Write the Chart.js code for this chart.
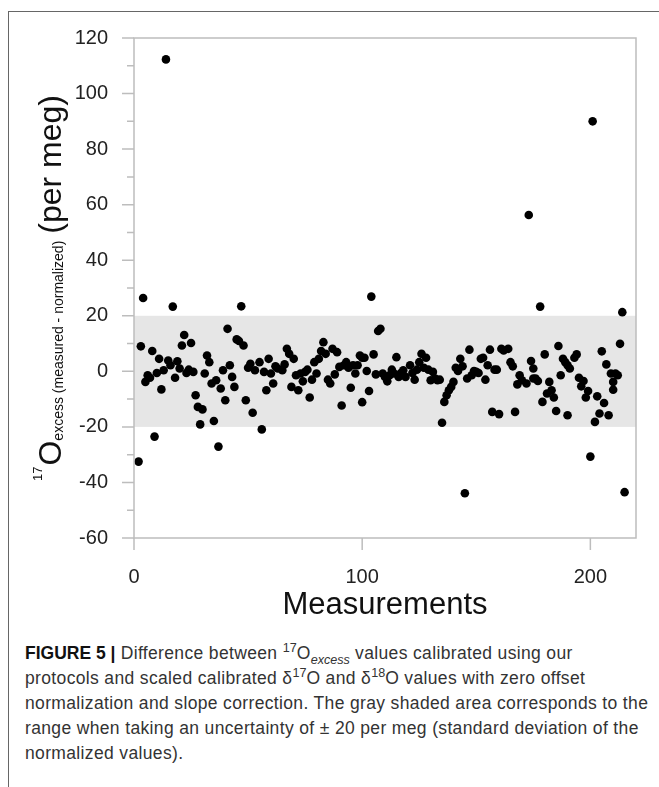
<!DOCTYPE html>
<html>
<head>
<meta charset="utf-8">
<script src="https://cdn.jsdelivr.net/npm/chart.js@4"></script>
<style>
  body { margin: 0; background: #fff; width: 659px; height: 787px; overflow: hidden; position: relative; }
  #frame { position: absolute; left: 8px; top: 11px; right: -2px; bottom: -2px; border-top: 1.5px solid #666; border-left: 1.5px solid #666; }
  #wrap { position: absolute; left: 0; top: 0; width: 659px; height: 624px; }
  #caption { position: absolute; left: 25px; top: 641px; font-family: "Liberation Sans", Arial, sans-serif; font-size: 17.5px; letter-spacing: 0.35px; line-height: 25px; color: #333; white-space: nowrap; }
  #caption b { color: #111; letter-spacing: 0; }
  #caption sup, #caption sub { font-size: 0.72em; line-height: 0; letter-spacing: 0; }
</style>
</head>
<body>
<div id="frame"></div>
<div id="wrap"><canvas id="excessChart" width="659" height="624"></canvas></div>
<div id="caption"><b>FIGURE 5 |</b> Difference between <sup>17</sup>O<sub><i>excess</i></sub> values calibrated using our<br>protocols and scaled calibrated δ<sup>17</sup>O and δ<sup>18</sup>O values with zero offset<br>normalization and slope correction. The gray shaded area corresponds to the<br>range when taking an uncertainty of ± 20 per meg (standard deviation of the<br>normalized values).</div>
<script>
const measurement = [
  2, 3, 4, 5, 6, 7, 8, 9, 10, 11,
  12, 13, 14, 15, 16, 17, 18, 19, 20, 21,
  22, 23, 24, 25, 26, 27, 28, 29, 30, 31,
  32, 33, 34, 35, 36, 37, 38, 39, 40, 41,
  42, 43, 44, 45, 46, 47, 48, 49, 50, 51,
  52, 53, 55, 56, 57, 58, 59, 60, 61, 62,
  63, 65, 66, 67, 68, 69, 70, 71, 72, 73,
  74, 75, 76, 77, 78, 79, 80, 81, 82, 83,
  84, 85, 86, 87, 88, 89, 90, 91, 92, 93,
  94, 95, 96, 97, 98, 99, 100, 100, 101, 102,
  103, 104, 105, 106, 107, 108, 109, 110, 111, 112,
  113, 114, 115, 116, 117, 118, 119, 121, 122, 123,
  124, 125, 126, 127, 128, 129, 130, 131, 132, 133,
  134, 135, 136, 137, 138, 139, 140, 141, 142, 143,
  144, 145, 146, 147, 148, 149, 150, 151, 152, 153,
  154, 155, 156, 157, 158, 159, 160, 161, 162, 164,
  165, 166, 167, 168, 169, 170, 172, 173, 174, 175,
  175, 176, 177, 178, 179, 180, 181, 182, 183, 184,
  185, 186, 187, 188, 189, 190, 190, 191, 193, 194,
  195, 196, 197, 198, 199, 200, 201, 202, 203, 204,
  205, 206, 207, 208, 209, 210, 210, 211, 212, 213,
  214, 215
];
const excessDiff = [
  -32.5, 9.0, 26.4, -3.8, -1.4, -2.3, 7.3, -23.5, -0.6, 4.5,
  -6.5, 0.4, 112.3, 3.9, 2.2, 23.3, -2.3, 3.6, 1.0, 9.3,
  13.1, -0.6, 0.6, 10.2, -0.2, -8.6, -12.8, -19.1, -13.7, -0.8,
  5.7, 3.3, -4.4, -17.9, -3.2, -27.1, -6.2, 0.4, -10.4, 15.3,
  2.2, -2.0, -5.6, 11.5, 10.9, 23.4, 9.3, -10.4, 1.3, 2.7,
  -14.9, 0.4, 3.3, -20.9, -0.2, -6.8, 4.5, -0.8, -4.4, 1.8,
  1.0, 0.4, 2.5, 8.1, 6.3, -5.6, 4.5, -1.4, -6.8, -0.8,
  -3.6, -0.2, 0.6, -9.4, -3.0, 3.3, -0.8, 4.5, 7.3, 10.5,
  6.3, -3.0, -4.4, 8.1, -1.1, 6.9, 1.6, -12.3, 2.2, 3.3,
  1.3, -5.9, 2.2, -0.8, 2.2, 5.7, 4.9, -11.1, 4.9, 0.1,
  -7.1, 26.9, 6.1, -1.1, 14.5, 15.3, -0.8, -2.0, -3.6, -1.4,
  0.6, -0.8, 5.1, -2.0, -0.6, 0.4, -2.0, 2.2, -0.6, -3.0,
  0.6, 3.3, 6.3, 1.3, 4.9, 0.6, -3.2, -0.2, -2.6, -3.2,
  -3.0, -18.5, -11.0, -8.6, -6.8, -5.6, -3.8, 1.3, 0.1, 4.5,
  1.8, -43.9, -2.6, 7.8, -1.4, 0.1, -0.2, -0.6, 4.5, 4.9,
  -3.0, 2.2, 7.8, -14.6, 0.6, 0.6, -15.4, 8.1, 7.5, 8.1,
  3.3, 1.8, -14.6, -4.7, -1.4, -3.2, -4.4, 56.3, 3.7, 1.0,
  -2.6, -2.6, -3.5, 23.3, -11.0, 6.1, -8.0, -3.8, -6.8, -9.4,
  -14.3, 9.1, -1.4, 4.5, 3.3, -15.8, 2.2, 1.0, 4.9, 6.1,
  -2.3, -5.4, -3.5, -9.4, -7.1, -30.7, 90.0, -18.2, -9.0, -15.2,
  7.2, -11.4, 2.5, -15.8, -0.8, -3.8, -6.6, -0.8, -1.4, 9.9,
  21.3, -43.5
];

const xTicks = [0, 100, 200];
const yTicks = [-60, -40, -20, 0, 20, 40, 60, 80, 100, 120];
const yMinorTicks = [-50, -30, -10, 10, 30, 50, 70, 90, 110];
const band = [-20, 20]; // +/- 20 per meg uncertainty

const axisGray = "#bdbdbd";
const fontFamily = "'Liberation Sans', Arial, Helvetica, sans-serif";

// gray band, plot frame and outside tick marks
const framePlugin = {
  id: "frame",
  beforeDatasetsDraw(chart) {
    const { ctx, chartArea: a, scales: { y } } = chart;
    const top = y.getPixelForValue(band[1]);
    const bottom = y.getPixelForValue(band[0]);
    ctx.save();
    ctx.fillStyle = "#e6e6e6";
    ctx.fillRect(a.left, top, a.right - a.left, bottom - top);
    ctx.restore();
  },
  afterDraw(chart) {
    const { ctx, chartArea: a, scales: { x, y } } = chart;
    ctx.save();
    ctx.strokeStyle = axisGray;
    ctx.lineWidth = 1.5;
    ctx.strokeRect(a.left, a.top, a.right - a.left, a.bottom - a.top);
    ctx.beginPath();
    yTicks.forEach(v => {
      const py = y.getPixelForValue(v);
      ctx.moveTo(a.left - 12, py); ctx.lineTo(a.left, py);
    });
    yMinorTicks.forEach(v => {
      const py = y.getPixelForValue(v);
      ctx.moveTo(a.left - 7, py); ctx.lineTo(a.left, py);
    });
    xTicks.forEach(v => {
      const px = x.getPixelForValue(v);
      ctx.moveTo(px, a.bottom); ctx.lineTo(px, a.bottom + 12);
    });
    ctx.stroke();
    ctx.restore();
  }
};

// rotated y title with superscript / subscript parts
const yTitlePlugin = {
  id: "yTitle",
  afterDraw(chart) {
    const { ctx, chartArea: a } = chart;
    const parts = [
      { text: "17", size: 13, dy: -19.5 },
      { text: "O", size: 32, dy: 0, gap: 1 },
      { text: "excess (measured - normalized)", size: 14, dy: 1.5 },
      { text: "(per meg)", size: 32, dy: 0, gap: 7 }
    ];
    ctx.save();
    let total = 0;
    parts.forEach(p => {
      ctx.font = p.size + "px " + fontFamily;
      p.w = ctx.measureText(p.text).width;
      total += p.w + (p.gap || 0);
    });
    ctx.translate(61, (a.top + a.bottom) / 2);
    ctx.rotate(-Math.PI / 2);
    ctx.fillStyle = "#111";
    ctx.textBaseline = "alphabetic";
    let cx = -total / 2;
    parts.forEach(p => {
      cx += p.gap || 0;
      ctx.font = p.size + "px " + fontFamily;
      ctx.fillText(p.text, cx, p.dy);
      cx += p.w;
    });
    ctx.restore();
  }
};

const ctx = document.getElementById("excessChart").getContext("2d");
new Chart(ctx, {
  type: "scatter",
  data: {
    datasets: [{
      label: "17O excess difference",
      data: measurement.map((m, i) => ({ x: m, y: excessDiff[i] })),
      backgroundColor: "#000",
      borderWidth: 0,
      pointRadius: 4.3
    }]
  },
  options: {
    responsive: false,
    animation: false,
    layout: { padding: { left: 0, right: 23, top: 37, bottom: 0 } },
    plugins: { legend: { display: false }, tooltip: { enabled: false } },
    scales: {
      x: {
        type: "linear",
        min: 0,
        max: 220,
        afterBuildTicks: s => { s.ticks = xTicks.map(v => ({ value: v })); },
        afterFit: s => { s.height = 86; },
        grid: { drawOnChartArea: false, drawTicks: false },
        border: { display: false },
        ticks: { padding: 27, color: "#222", font: { family: fontFamily, size: 20 } },
        title: { display: true, text: "Measurements", color: "#111", padding: 0, font: { family: fontFamily, size: 31 } }
      },
      y: {
        min: -60,
        max: 120,
        afterBuildTicks: s => { s.ticks = yTicks.map(v => ({ value: v })); },
        afterFit: s => { s.width = 134; },
        grid: { drawOnChartArea: false, drawTicks: false },
        border: { display: false },
        ticks: { padding: 26, color: "#222", font: { family: fontFamily, size: 20 } }
      }
    }
  },
  plugins: [framePlugin, yTitlePlugin]
});
</script>
</body>
</html>
